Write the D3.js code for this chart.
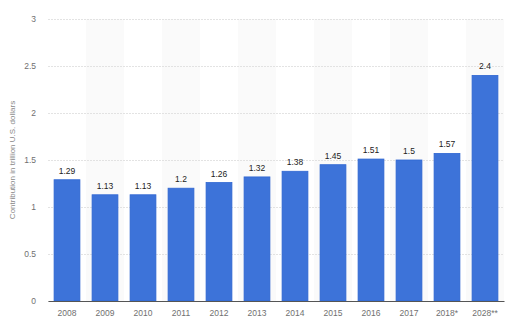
<!DOCTYPE html>
<html>
<head>
<meta charset="utf-8">
<script src="https://cdn.jsdelivr.net/npm/d3@7"></script>
<style>
  html, body { margin: 0; padding: 0; background: #fff; }
  svg { display: block; }
</style>
</head>
<body>
<svg id="chart" width="512" height="331"></svg>
<script>
// Contribution of travel & tourism, trillion U.S. dollars
const years = ["2008", "2009", "2010", "2011", "2012", "2013", "2014", "2015", "2016", "2017", "2018*", "2028**"];
const values = [1.29, 1.13, 1.13, 1.2, 1.26, 1.32, 1.38, 1.45, 1.51, 1.5, 1.57, 2.4];
const yTicks = [0, 0.5, 1, 1.5, 2, 2.5, 3];
const yTitle = "Contribution in trillion U.S. dollars";

const svg = d3.select("#chart");
const margin = { top: 19, right: 8, bottom: 30, left: 48 };
const W = 512, H = 331;
const innerW = W - margin.left - margin.right;
const innerH = H - margin.top - margin.bottom;
const font = "Arial, 'Liberation Sans', sans-serif";

const x = d3.scaleBand().domain(years).range([margin.left, margin.left + innerW]).paddingInner(0.32).paddingOuter(0.16);
const y = d3.scaleLinear().domain([0, 3]).range([margin.top + innerH, margin.top]);

// alternating column shading
svg.append("g").selectAll("rect")
  .data(years.filter((d, i) => i % 2 === 1))
  .join("rect")
  .attr("x", d => x(d) - x.step() * x.paddingInner() / 2)
  .attr("width", x.step())
  .attr("y", y(3))
  .attr("height", y(0) - y(3))
  .attr("fill", "#fafafa");

// horizontal grid lines
const yAxis = d3.axisLeft(y).tickValues(yTicks).tickSize(-innerW).tickPadding(12).tickFormat(d3.format("~g"));
const gy = svg.append("g").attr("transform", `translate(${margin.left},0)`).call(yAxis);
gy.select(".domain").remove();
gy.selectAll(".tick line").attr("stroke", "#dcdcdc").attr("stroke-dasharray", "2,1").attr("stroke-width", 0.8);
gy.selectAll(".tick text").attr("fill", "#707070").attr("font-family", font).attr("font-size", 8.5);

// bars
svg.append("g").selectAll("rect")
  .data(values)
  .join("rect")
  .attr("x", (d, i) => x(years[i]))
  .attr("width", x.bandwidth())
  .attr("y", d => y(d))
  .attr("height", d => y(0) - y(d))
  .attr("fill", "#3d73d9")
  .attr("stroke", "#2f66d2")
  .attr("stroke-width", 0.8);

// value labels
svg.append("g").selectAll("text")
  .data(values)
  .join("text")
  .attr("x", (d, i) => x(years[i]) + x.bandwidth() / 2)
  .attr("y", d => y(d) - 6)
  .attr("text-anchor", "middle")
  .attr("font-family", font)
  .attr("font-size", 8.5)
  .attr("fill", "#222")
  .text(d => d3.format("~g")(d));

// x axis
const xAxis = d3.axisBottom(x).tickSize(0).tickPadding(9);
const gx = svg.append("g").attr("transform", `translate(0,${y(0)})`).call(xAxis);
gx.select(".domain").attr("stroke", "#555").attr("stroke-width", 1.2);
gx.selectAll(".tick text").attr("fill", "#707070").attr("font-family", font).attr("font-size", 8.5);

// y axis title
svg.append("text")
  .attr("transform", `translate(15,${margin.top + innerH / 2}) rotate(-90)`)
  .attr("text-anchor", "middle")
  .attr("font-family", font)
  .attr("font-size", 8)
  .attr("fill", "#888")
  .text(yTitle);
</script>
</body>
</html>
